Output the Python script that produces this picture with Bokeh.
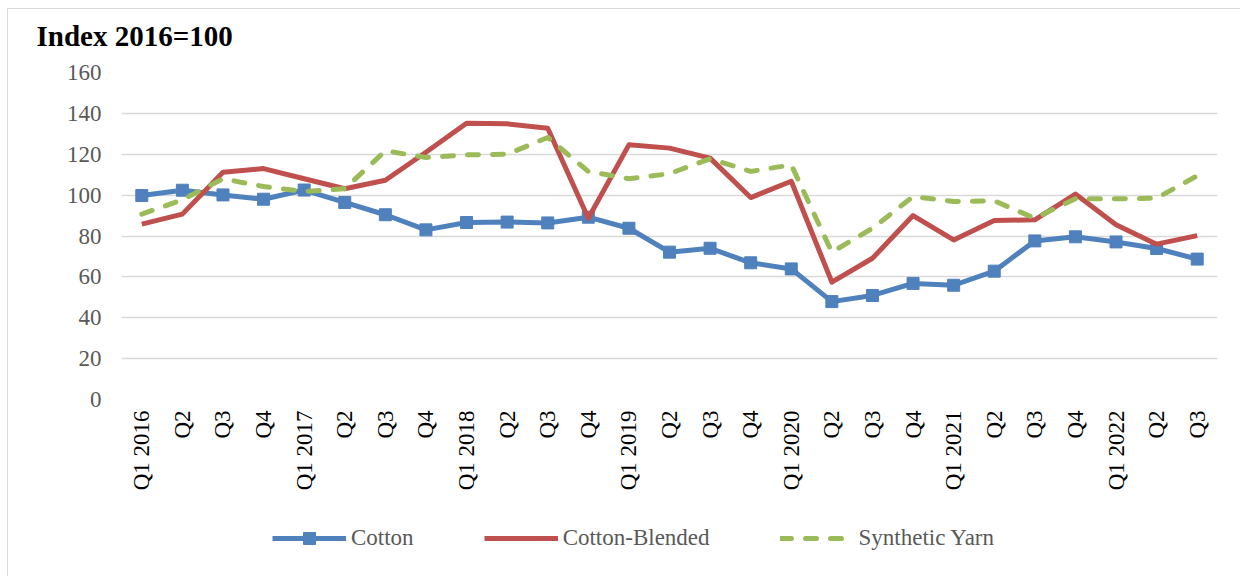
from bokeh.plotting import figure
from bokeh.models import FixedTicker, Legend, LegendItem, ColumnDataSource, Title
from bokeh.layouts import column
from bokeh.embed import file_html
from bokeh.resources import INLINE
import math

quarters = ["Q1 2016", "Q2", "Q3", "Q4", "Q1 2017", "Q2", "Q3", "Q4",
            "Q1 2018", "Q2", "Q3", "Q4", "Q1 2019", "Q2", "Q3", "Q4",
            "Q1 2020", "Q2", "Q3", "Q4", "Q1 2021", "Q2", "Q3", "Q4",
            "Q1 2022", "Q2", "Q3"]
cotton = [99.8, 102.4, 100.1, 98.0, 102.5, 96.4, 90.4, 83.0, 86.6, 86.8, 86.4, 89.2,
          83.8, 72.1, 74.0, 66.9, 63.9, 47.9, 50.9, 56.8, 55.9, 62.8, 77.6, 79.6,
          77.1, 73.9, 68.7]
cotton_blended = [85.8, 90.7, 111.2, 113.0, 108.0, 103.1, 107.3, 121.0, 135.2, 134.9, 132.7, 88.7,
                  124.6, 123.0, 118.1, 98.8, 106.8, 57.4, 69.1, 90.0, 78.1, 87.6, 87.9, 100.5,
                  85.5, 76.0, 80.2]
synthetic = [90.7, 97.7, 108.0, 104.2, 101.8, 103.1, 121.7, 118.4, 119.7, 120.0, 128.2, 111.6,
             108.0, 110.5, 117.8, 111.6, 114.8, 72.1, 83.8, 99.3, 96.9, 97.2, 88.7, 98.2,
             98.2, 98.5, 109.5]
series_names = ["Cotton", "Cotton-Blended", "Synthetic Yarn"]
y_ticks = [0, 20, 40, 60, 80, 100, 120, 140, 160]

xs = list(range(len(quarters)))
src = ColumnDataSource(dict(x=xs, cotton=cotton, blended=cotton_blended, synth=synthetic))

W = 1233
H1, H2 = 500, 68
p = figure(width=W, height=H1, output_backend="svg", toolbar_location=None,
           x_range=(-0.5, len(quarters) - 0.5), y_range=(0, 160),
           min_border_left=113, min_border_right=24, min_border_top=63, min_border_bottom=110)
p.outline_line_color = None
p.background_fill_color = "white"
p.border_fill_color = "white"
p.styles = {"border-left": "1px solid #d9d9d9", "border-top": "1px solid #d9d9d9"}

p.title.text = "Index 2016=100"
p.title.text_font = "Liberation Serif"
p.title.text_font_size = "29px"
p.title.text_font_style = "bold"
p.title.text_color = "black"
p.title.align = "left"
p.title.offset = -85
# spacer between the title and the plot frame
p.add_layout(Title(text=" ", text_font_size="12px", standoff=0), "above")

p.xgrid.grid_line_color = None
p.ygrid.grid_line_color = "#d9d9d9"
p.ygrid.grid_line_width = 1.5
p.ygrid.ticker = FixedTicker(ticks=y_ticks)

p.yaxis.ticker = FixedTicker(ticks=y_ticks)
p.yaxis.axis_line_color = None
p.yaxis.major_tick_line_color = None
p.yaxis.minor_tick_line_color = None
p.yaxis.major_tick_out = 0
p.yaxis.major_tick_in = 0
p.yaxis.major_label_text_font = "Liberation Serif"
p.yaxis.major_label_text_font_size = "23px"
p.yaxis.major_label_text_color = "#595959"
p.yaxis.major_label_standoff = 20

p.xaxis.ticker = FixedTicker(ticks=xs)
p.xaxis.major_label_overrides = {i: q for i, q in enumerate(quarters)}
p.xaxis.major_label_orientation = math.pi / 2
p.xaxis.axis_line_color = None
p.xaxis.major_tick_line_color = None
p.xaxis.minor_tick_line_color = None
p.xaxis.major_tick_out = 0
p.xaxis.major_tick_in = 0
p.xaxis.major_label_text_font = "Liberation Serif"
p.xaxis.major_label_text_font_size = "23px"
p.xaxis.major_label_text_color = "black"
p.xaxis.major_label_standoff = 11

blue, red, green = "#4f81bd", "#c0504d", "#9bbb59"
LW = 5
DASH = "11 14"
p.line("x", "cotton", source=src, line_color=blue, line_width=LW, line_join="round")
p.scatter("x", "cotton", source=src, marker="square", size=12, fill_color=blue, line_color=blue)
p.line("x", "blended", source=src, line_color=red, line_width=LW, line_join="round")
p.line("x", "synth", source=src, line_color=green, line_width=LW, line_dash=DASH,
       line_cap="round", line_join="round")

# legend strip below the chart (its frame is aligned with the chart frame)
q = figure(width=W, height=H2, output_backend="svg", toolbar_location=None,
           x_range=(0, 1), y_range=(0, 1), min_border=0)
q.axis.visible = False
q.grid.visible = False
q.outline_line_color = None
q.border_fill_color = "white"
q.styles = {"border-left": "1px solid #d9d9d9"}
off = dict(x=[-5, -4], y=[-5, -4])
l_c = q.line(x=off["x"], y=off["y"], line_color=blue, line_width=LW)
l_cm = q.scatter(x=off["x"][:1], y=off["y"][:1], marker="square", size=12, fill_color=blue, line_color=blue)
l_b = q.line(x=off["x"], y=off["y"], line_color=red, line_width=LW)
l_s = q.line(x=off["x"], y=off["y"], line_color=green, line_width=LW, line_dash=DASH, line_cap="round")

legend = Legend(items=[LegendItem(label=series_names[0], renderers=[l_c, l_cm]),
                       LegendItem(label=series_names[1], renderers=[l_b]),
                       LegendItem(label=series_names[2], renderers=[l_s])],
                orientation="horizontal", location=(151, 23))
legend.label_text_font = "Liberation Serif"
legend.label_text_font_size = "23px"
legend.label_text_color = "#595959"
legend.glyph_width = 74
legend.glyph_height = 30
legend.label_height = 30
legend.label_standoff = 5
legend.spacing = 70
legend.padding = 0
legend.margin = 0
legend.border_line_color = None
legend.background_fill_alpha = 0
q.add_layout(legend, "center")

layout = column(p, q, spacing=0, margin=(8, 0, 0, 7))
open("out.html", "w").write(file_html(layout, INLINE))
